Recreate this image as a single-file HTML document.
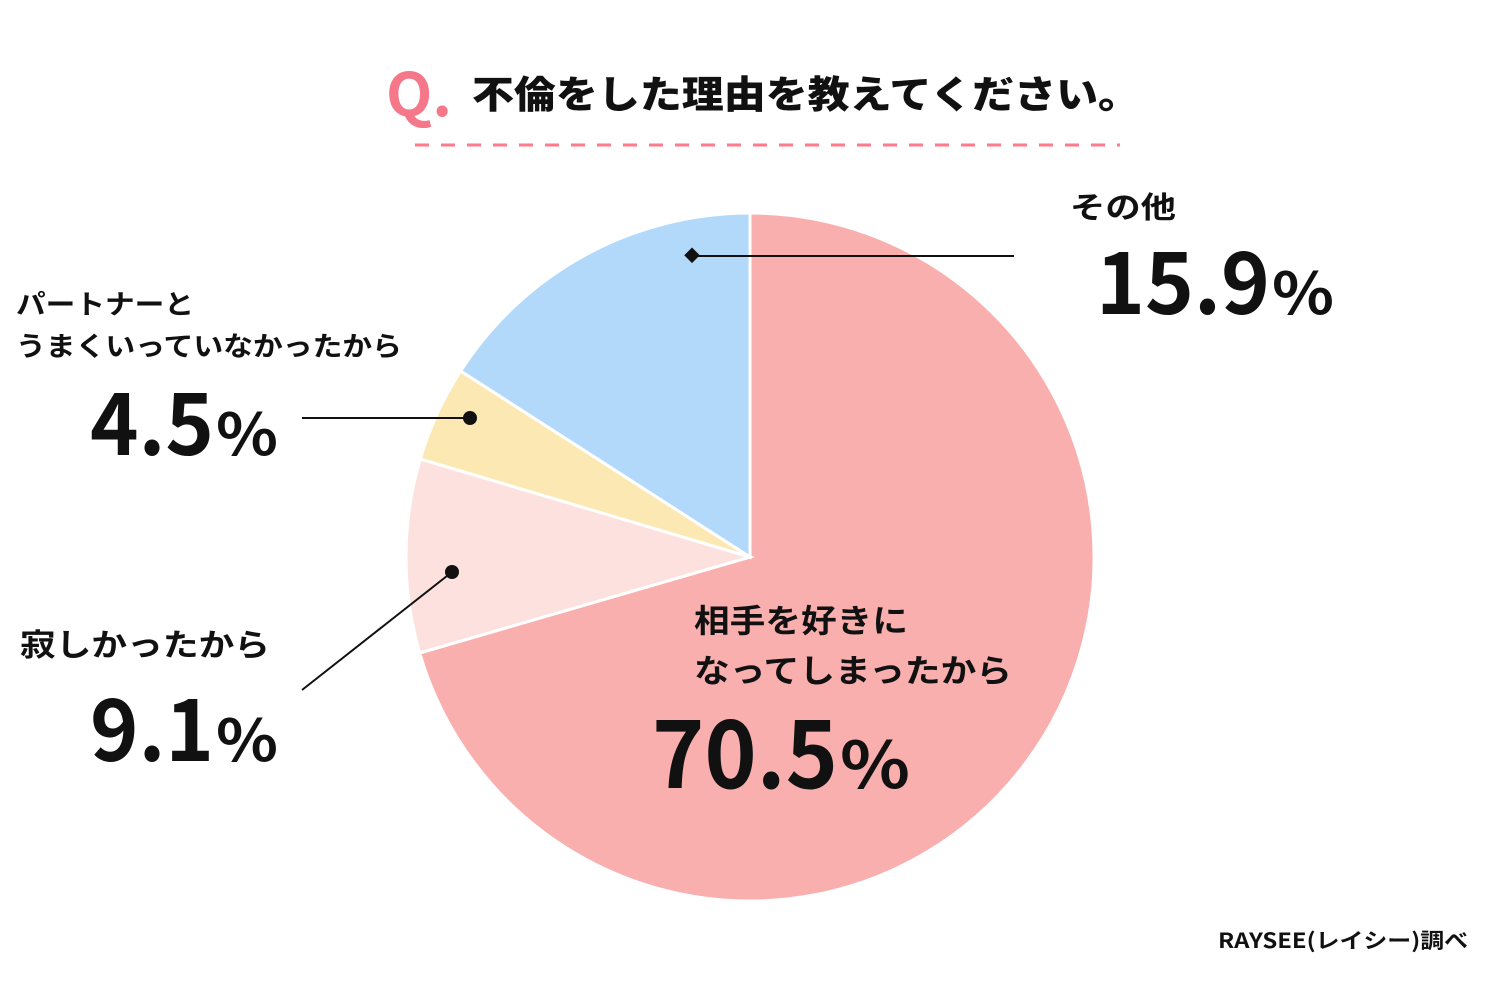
<!DOCTYPE html>
<html><head><meta charset="utf-8"><style>
html,body{margin:0;padding:0;background:#fff;}
svg{display:block;}
text{font-family:"Noto Sans CJK JP",sans-serif;font-weight:700;fill:#111;}
</style></head><body>
<svg width="1500" height="990" viewBox="0 0 1500 990" xmlns="http://www.w3.org/2000/svg">
<rect width="1500" height="990" fill="#fff"/>
<text x="386" y="116" font-size="60" style="fill:#f5788a" textLength="66" lengthAdjust="spacingAndGlyphs">Q.</text>
<text x="472" y="108" font-size="38" textLength="668" lengthAdjust="spacingAndGlyphs" style="font-weight:900">不倫をした理由を教えてください。</text>
<line x1="415" y1="145" x2="1120" y2="145" stroke="#ff7a8a" stroke-width="3" stroke-dasharray="14 12"/>
<g stroke="#fff" stroke-width="3">
<path d="M750 557 L750 213 A344 344 0 1 1 419.7 653 Z" fill="#f8afae"/>
<path d="M750 557 L419.7 653 A344 344 0 0 1 420.3 459 Z" fill="#fce1df"/>
<path d="M750 557 L420.3 459 A344 344 0 0 1 460.7 371 Z" fill="#fbe8b2"/>
<path d="M750 557 L460.7 371 A344 344 0 0 1 750 213 Z" fill="#b2d9fa"/>
</g>
<line x1="692" y1="256" x2="1014" y2="256" stroke="#111" stroke-width="2"/>
<rect x="686" y="250" width="11" height="11" fill="#111" transform="rotate(45 692 256)"/>
<line x1="302" y1="418" x2="470" y2="418" stroke="#111" stroke-width="2"/>
<circle cx="470" cy="418" r="7" fill="#111"/>
<line x1="302" y1="690" x2="452" y2="572" stroke="#111" stroke-width="2"/>
<circle cx="452" cy="572" r="7" fill="#111"/>
<text x="1070" y="218" font-size="30" textLength="106" lengthAdjust="spacingAndGlyphs">その他</text>
<text x="16" y="314" font-size="27" textLength="178" lengthAdjust="spacingAndGlyphs">パートナーと</text>
<text x="16" y="356" font-size="27" textLength="386" lengthAdjust="spacingAndGlyphs">うまくいっていなかったから</text>
<text x="20" y="656" font-size="31" textLength="250" lengthAdjust="spacingAndGlyphs">寂しかったから</text>
<text x="694" y="632" font-size="32" textLength="214" lengthAdjust="spacingAndGlyphs">相手を好きに</text>
<text x="694" y="682" font-size="32" textLength="318" lengthAdjust="spacingAndGlyphs">なってしまったから</text>
<g>
<text x="1096" y="314" font-size="86" textLength="174" lengthAdjust="spacingAndGlyphs">15.9</text>
<text x="1272" y="314" font-size="58" textLength="62" lengthAdjust="spacingAndGlyphs">%</text>
<text x="90" y="455" font-size="86" textLength="124" lengthAdjust="spacingAndGlyphs">4.5</text>
<text x="216" y="455" font-size="58" textLength="62" lengthAdjust="spacingAndGlyphs">%</text>
<text x="90" y="761" font-size="86" textLength="124" lengthAdjust="spacingAndGlyphs">9.1</text>
<text x="216" y="761" font-size="58" textLength="62" lengthAdjust="spacingAndGlyphs">%</text>
<text x="652" y="788" font-size="94" textLength="186" lengthAdjust="spacingAndGlyphs">70.5</text>
<text x="840" y="788" font-size="64" textLength="70" lengthAdjust="spacingAndGlyphs">%</text>
</g>
<text x="1218" y="948" font-size="21" textLength="250" lengthAdjust="spacingAndGlyphs">RAYSEE(レイシー)調べ</text>
</svg>
</body></html>
